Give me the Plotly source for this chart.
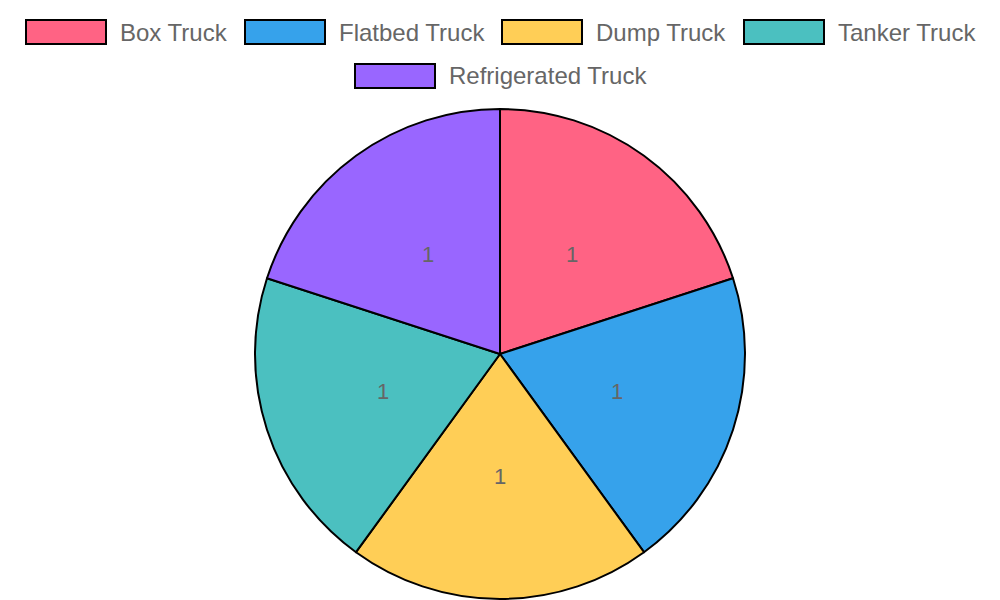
import math
import plotly.graph_objects as go

# Datos del gráfico
truck_types = ["Box Truck", "Flatbed Truck", "Dump Truck", "Tanker Truck", "Refrigerated Truck"]
counts = [1, 1, 1, 1, 1]
colors = ["#FF6384", "#36A2EB", "#FFCE56", "#4BC0C0", "#9966FF"]

W, H = 1000, 600
OFF = 8  # margen del body de la página
FONT = "Liberation Sans, Arial, sans-serif"

# Geometría del pie (px en la página)
CX, CY, R = 500 - OFF, 354 - OFF, 245

# Posiciones de la leyenda (px): (x de la caja, y centro de la fila)
legend_pos = [(26, 32), (245, 32), (502, 32), (744, 32), (355, 76)]

fig = go.Figure(
    go.Pie(
        labels=truck_types,
        values=counts,
        sort=False,
        direction="clockwise",
        rotation=0,
        marker=dict(colors=colors, line=dict(color="#000000", width=2)),
        textinfo="none",
        domain=dict(x=[(CX - R) / W, (CX + R) / W], y=[1 - (CY + R) / H, 1 - (CY - R) / H]),
        showlegend=False,
        hoverinfo="label+value",
    )
)

shapes = []
annotations = []

# Etiquetas de valor a media distancia del radio (estilo Chart.js)
total = sum(counts)
acc = 0
for v in counts:
    mid = (acc + v / 2) / total * 2 * math.pi
    acc += v
    px = CX + 0.5 * R * math.sin(mid)
    py = CY - 0.5 * R * math.cos(mid)
    annotations.append(
        dict(
            text=str(v),
            xref="paper",
            yref="paper",
            x=px / W,
            y=1 - py / H,
            xanchor="center",
            yanchor="middle",
            showarrow=False,
            font=dict(family=FONT, size=22, color="#666666"),
        )
    )

# Leyenda estilo Chart.js
for (bx, cy), name, col in zip(legend_pos, truck_types, colors):
    bx -= OFF
    cy -= OFF
    shapes.append(
        dict(
            type="rect",
            xref="paper",
            yref="paper",
            x0=bx / W,
            x1=(bx + 80) / W,
            y0=1 - (cy + 12) / H,
            y1=1 - (cy - 12) / H,
            fillcolor=col,
            line=dict(color="#000000", width=2),
        )
    )
    annotations.append(
        dict(
            text=name,
            xref="paper",
            yref="paper",
            x=(bx + 92) / W,
            y=1 - cy / H,
            xanchor="left",
            yanchor="middle",
            showarrow=False,
            font=dict(family=FONT, size=24, color="#666666"),
        )
    )

fig.update_layout(
    width=W,
    height=H,
    margin=dict(l=0, r=0, t=0, b=0),
    paper_bgcolor="white",
    plot_bgcolor="white",
    shapes=shapes,
    annotations=annotations,
)

fig.write_html("out.html")
